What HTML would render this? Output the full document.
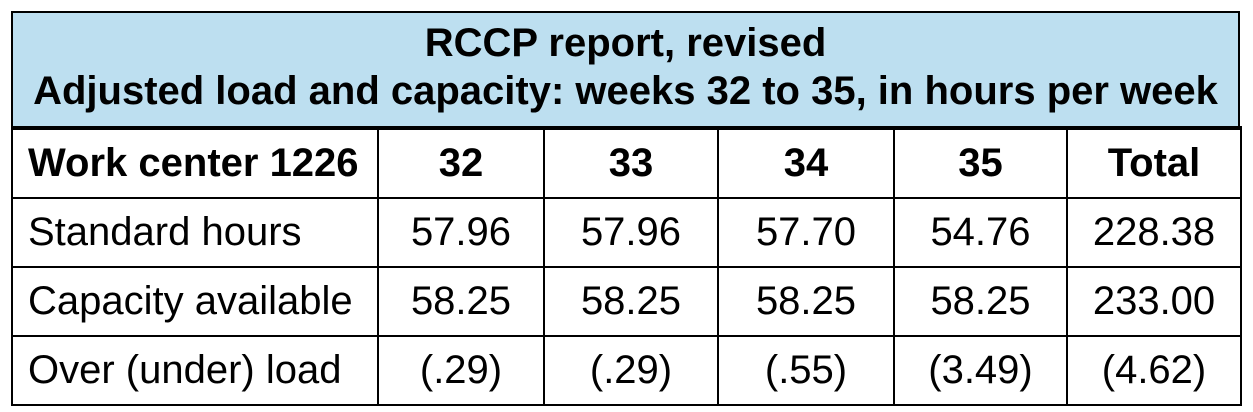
<!DOCTYPE html>
<html><head><style>
body{margin:0;background:#fff;width:1253px;height:412px;overflow:hidden;font-family:"Liberation Sans",Arial,sans-serif;}
.hdr{position:absolute;left:11px;top:11px;width:1229px;height:116px;background:#bddff0;border:2px solid #000;border-bottom:none;text-align:center;font-weight:bold;font-size:40px;line-height:48px;box-sizing:border-box;padding-top:6px;white-space:nowrap;}
table{position:absolute;left:11px;top:126px;border-collapse:collapse;font-size:40px;}
td{border:2px solid #000;height:67px;padding:0;text-align:center;white-space:nowrap;}
tr:first-child td{border-top:4px solid #000;font-weight:bold;}
td.l{text-align:left;padding-left:15px;}
</style></head><body>
<div class="hdr">RCCP report, revised<br>Adjusted load and capacity: weeks 32 to 35, in hours per week</div>
<table>
<colgroup><col style="width:366px"><col style="width:166px"><col style="width:174px"><col style="width:176px"><col style="width:173px"><col style="width:174px"></colgroup>
<tr><td class="l">Work center 1226</td><td>32</td><td>33</td><td>34</td><td>35</td><td>Total</td></tr>
<tr><td class="l">Standard hours</td><td>57.96</td><td>57.96</td><td>57.70</td><td>54.76</td><td>228.38</td></tr>
<tr><td class="l">Capacity available</td><td>58.25</td><td>58.25</td><td>58.25</td><td>58.25</td><td>233.00</td></tr>
<tr><td class="l">Over (under) load</td><td>(.29)</td><td>(.29)</td><td>(.55)</td><td>(3.49)</td><td>(4.62)</td></tr>
</table>
</body></html>
